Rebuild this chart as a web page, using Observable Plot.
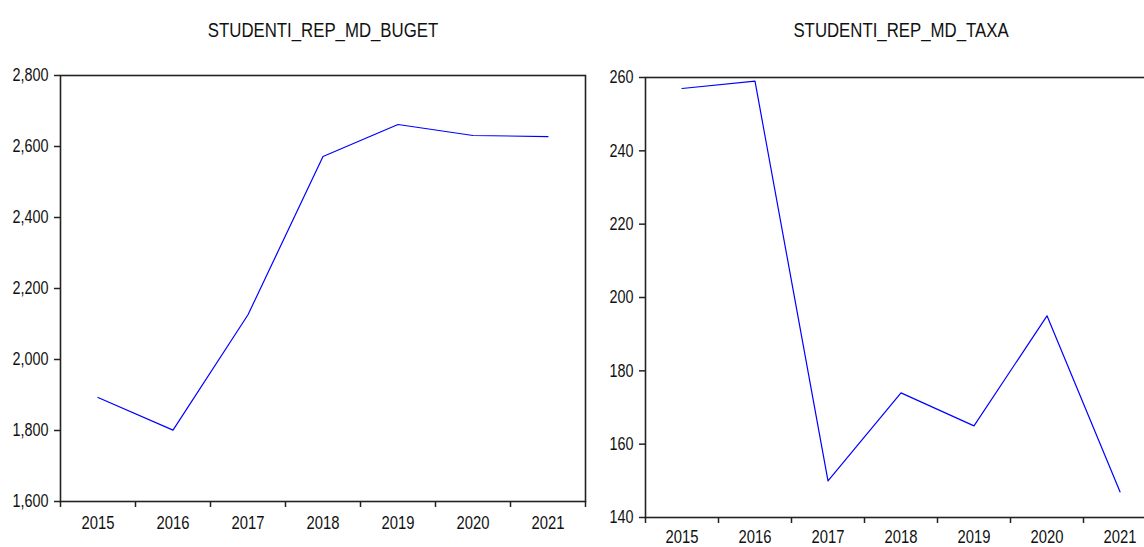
<!DOCTYPE html>
<html>
<head>
<meta charset="utf-8">
<script src="https://cdn.jsdelivr.net/npm/d3@7"></script>
<script src="https://cdn.jsdelivr.net/npm/@observablehq/plot@0.6"></script>
<style>
  html, body { margin: 0; padding: 0; background: #fff; overflow: hidden; width: 1144px; height: 547px; }
  #wrap { position: relative; width: 1144px; height: 547px; overflow: hidden; }
  .panel { position: absolute; top: 0; width: 600px; height: 547px; }
  .panel svg { overflow: visible; max-width: none !important; width: 600px; height: 547px; }
</style>
</head>
<body>
<div id="wrap">
  <div class="panel" id="left" style="left:0px"></div>
  <div class="panel" id="right" style="left:585px"></div>
</div>
<script>
const years = [2015, 2016, 2017, 2018, 2019, 2020, 2021];
const bugetValues = [1893, 1801, 2126, 2572, 2662, 2631, 2628];
const taxaValues = [257, 259, 150, 174, 165, 195, 147];
const bugetTicks = [1600, 1800, 2000, 2200, 2400, 2600, 2800];
const taxaTicks = [140, 160, 180, 200, 220, 240, 260];
const titleLeft = "STUDENTI_REP_MD_BUGET";
const titleRight = "STUDENTI_REP_MD_TAXA";

const boundaries = [2014.5, 2015.5, 2016.5, 2017.5, 2018.5, 2019.5, 2020.5, 2021.5];
const FONT = "'Liberation Sans Narrow', 'Arial Narrow', 'Liberation Sans', Arial, sans-serif";
const NARROW = 0.8;
const fmt = d3.format(",");

function panel(values, yTicks, title, opts) {
  const data = years.map((y, i) => ({year: y, value: values[i]}));
  return Plot.plot({
    width: 600,
    height: 547,
    marginLeft: 60,
    marginRight: opts.marginRight,
    marginTop: opts.marginTop,
    marginBottom: opts.marginBottom,
    style: {fontFamily: FONT, fontSize: "18px", color: "#111", background: "transparent", overflow: "visible"},
    x: {type: "linear", domain: [2014.5, 2021.5]},
    y: {domain: [yTicks[0], yTicks[yTicks.length - 1]]},
    marks: [
      Plot.axisY({ticks: yTicks, tickSize: 6, tickPadding: 6, tickFormat: fmt, label: null, stroke: "#222", strokeWidth: 1.5, fontSize: 18}),
      Plot.axisX({ticks: boundaries, tickSize: 6, tickFormat: () => "", label: null, stroke: "#222", strokeWidth: 1.5}),
      Plot.axisX({ticks: years, tickSize: 0, tickPadding: opts.xPad, tickFormat: d => String(d), label: null, fontSize: 18.5}),
      Plot.frame({stroke: "#222", strokeWidth: 1.6}),
      Plot.line(data, {x: "year", y: "value", stroke: "#0000ff", strokeWidth: 1.2}),
      Plot.text([title], {frameAnchor: "top", dy: opts.titleDy, text: d => d, fontSize: 21, fill: "#111"})
    ]
  });
}

// Narrow the lettering (emulating a condensed face) around each text's own anchor point
function condense(svg) {
  svg.querySelectorAll("text").forEach(t => {
    const x = +t.getAttribute("x") || 0;
    const y = +t.getAttribute("y") || 0;
    const tr = t.getAttribute("transform") || "";
    t.setAttribute("transform", `${tr} translate(${x},${y}) scale(${NARROW},1) translate(${-x},${-y})`);
  });
  return svg;
}

document.getElementById("left").appendChild(condense(panel(bugetValues, bugetTicks, titleLeft, {
  marginRight: 15, marginTop: 75, marginBottom: 46, xPad: 14, titleDy: -53
})));
document.getElementById("right").appendChild(condense(panel(taxaValues, taxaTicks, titleRight, {
  marginRight: 29, marginTop: 77, marginBottom: 30, xPad: 12, titleDy: -55
})));
</script>
</body>
</html>
